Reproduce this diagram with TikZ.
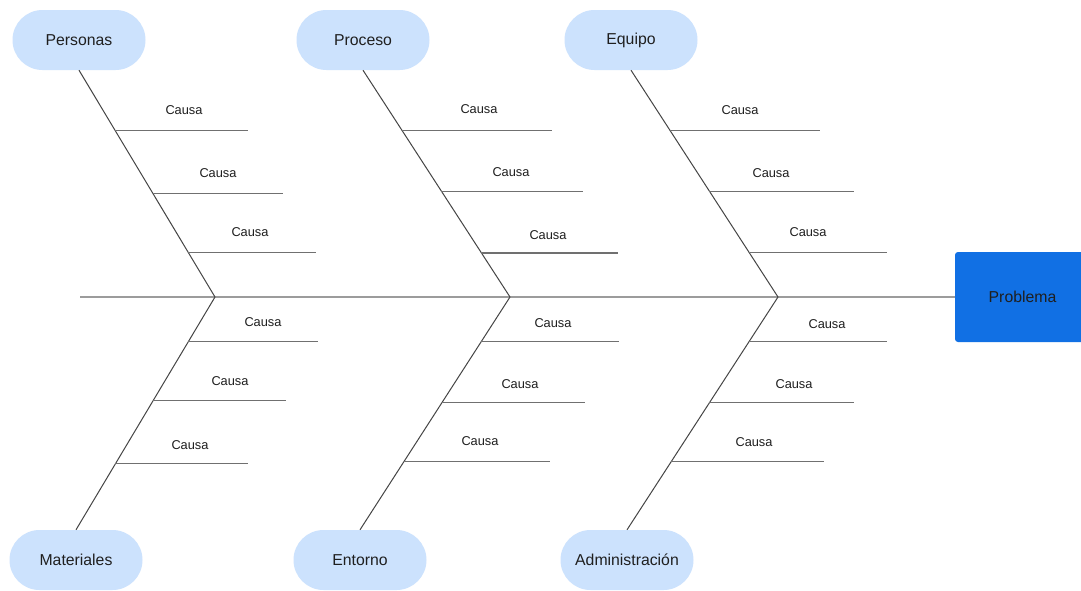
\documentclass[tikz,border=0pt]{standalone}
\usepackage{fontspec}
\setmainfont{Liberation Sans}
\usetikzlibrary{calc}
\definecolor{catfill}{HTML}{CCE2FD}
\definecolor{probfill}{HTML}{1170E4}
\definecolor{txt}{HTML}{1F1F1F}
\definecolor{spinecol}{HTML}{9C9C9C}
\definecolor{bonecol}{HTML}{454545}
\definecolor{causecol}{HTML}{707070}
% one cause branch: #1 bone start, #2 junction, #3 fraction along bone, #4 end x, #5 label x, #6 label y, #7 name
\newcommand{\causebranch}[7]{%
  \coordinate (#7s) at ($(#1)!#3!(#2)$);
  \coordinate (#7e) at (#7s -| #4,0);
  \draw[cause] (#7s) -- (#7e);
  \node[causelabel] (#7l) at (#5,#6) {Causa};
}
\begin{document}
\begin{tikzpicture}[x=1pt,y=-1pt,
  category/.style={fill=catfill, draw=none, rounded corners=30pt, minimum width=133pt,
    minimum height=60pt, inner sep=0pt, font=\fontsize{15.8}{18}\selectfont, text=txt},
  problem/.style={fill=probfill, draw=none, rounded corners=3pt, minimum width=135pt,
    minimum height=90pt, inner sep=0pt, font=\fontsize{15.8}{18}\selectfont, text=txt},
  spine/.style={draw=spinecol, line width=1.7pt},
  bone/.style={draw=bonecol, line width=1pt},
  cause/.style={draw=causecol, line width=1.1pt},
  causelabel/.style={font=\fontsize{12.8}{15}\selectfont, text=txt, inner sep=0pt}]
\useasboundingbox (0,0) rectangle (1081,590);
\fill[white] (0,0) rectangle (1081,590);

% categories above the spine
\node[category] (pers) at (79,40) {Personas};
\node[category] (proc) at (363,40) {Proceso};
\node[category] (equi) at (631,40) {Equipo};
% categories below the spine
\node[category] (mate) at (76,560) {Materiales};
\node[category] (ento) at (360,560) {Entorno};
\node[category] (admi) at (627,560) {Administración};
% effect
\node[problem] (prob) at (1022.5,297) {Problema};

% spine
\coordinate (tail) at (80,297);
\coordinate (j1) at (215,297);
\coordinate (j2) at (510,297);
\coordinate (j3) at (778,297);
\draw[spine] (tail) -- (prob.west);

% bones
\draw[bone] (pers.south) -- (j1);
\draw[bone] (proc.south) -- (j2);
\draw[bone] (equi.south) -- (j3);
\draw[bone] (mate.north) -- (j1);
\draw[bone] (ento.north) -- (j2);
\draw[bone] (admi.north) -- (j3);

% causes, upper bones (bone length 227 from y=70 to y=297)
\causebranch{pers.south}{j1}{0.264}{248}{184}{110}{pa}
\causebranch{pers.south}{j1}{0.542}{283}{218}{173}{pb}
\causebranch{pers.south}{j1}{0.802}{316}{250}{232}{pc}
\causebranch{proc.south}{j2}{0.264}{552}{479}{109}{ra}
\causebranch{proc.south}{j2}{0.533}{583}{511}{172}{rb}
\causebranch{proc.south}{j2}{0.806}{618}{548}{235}{rc}
\causebranch{equi.south}{j3}{0.264}{820}{740}{110}{ea}
\causebranch{equi.south}{j3}{0.533}{854}{771}{173}{eb}
\causebranch{equi.south}{j3}{0.802}{887}{808}{232}{ec}

% causes, lower bones (bone length 233 from y=530 to y=297)
\causebranch{j1}{mate.north}{0.193}{318}{263}{322}{ma}
\causebranch{j1}{mate.north}{0.446}{286}{230}{381}{mb}
\causebranch{j1}{mate.north}{0.716}{248}{190}{445}{mc}
\causebranch{j2}{ento.north}{0.193}{619}{553}{323}{na}
\causebranch{j2}{ento.north}{0.455}{585}{520}{384}{nb}
\causebranch{j2}{ento.north}{0.708}{550}{480}{441}{nc}
\causebranch{j3}{admi.north}{0.193}{887}{827}{324}{aa}
\causebranch{j3}{admi.north}{0.455}{854}{794}{384}{ab}
\causebranch{j3}{admi.north}{0.708}{824}{754}{442}{ac}
\end{tikzpicture}
\end{document}
